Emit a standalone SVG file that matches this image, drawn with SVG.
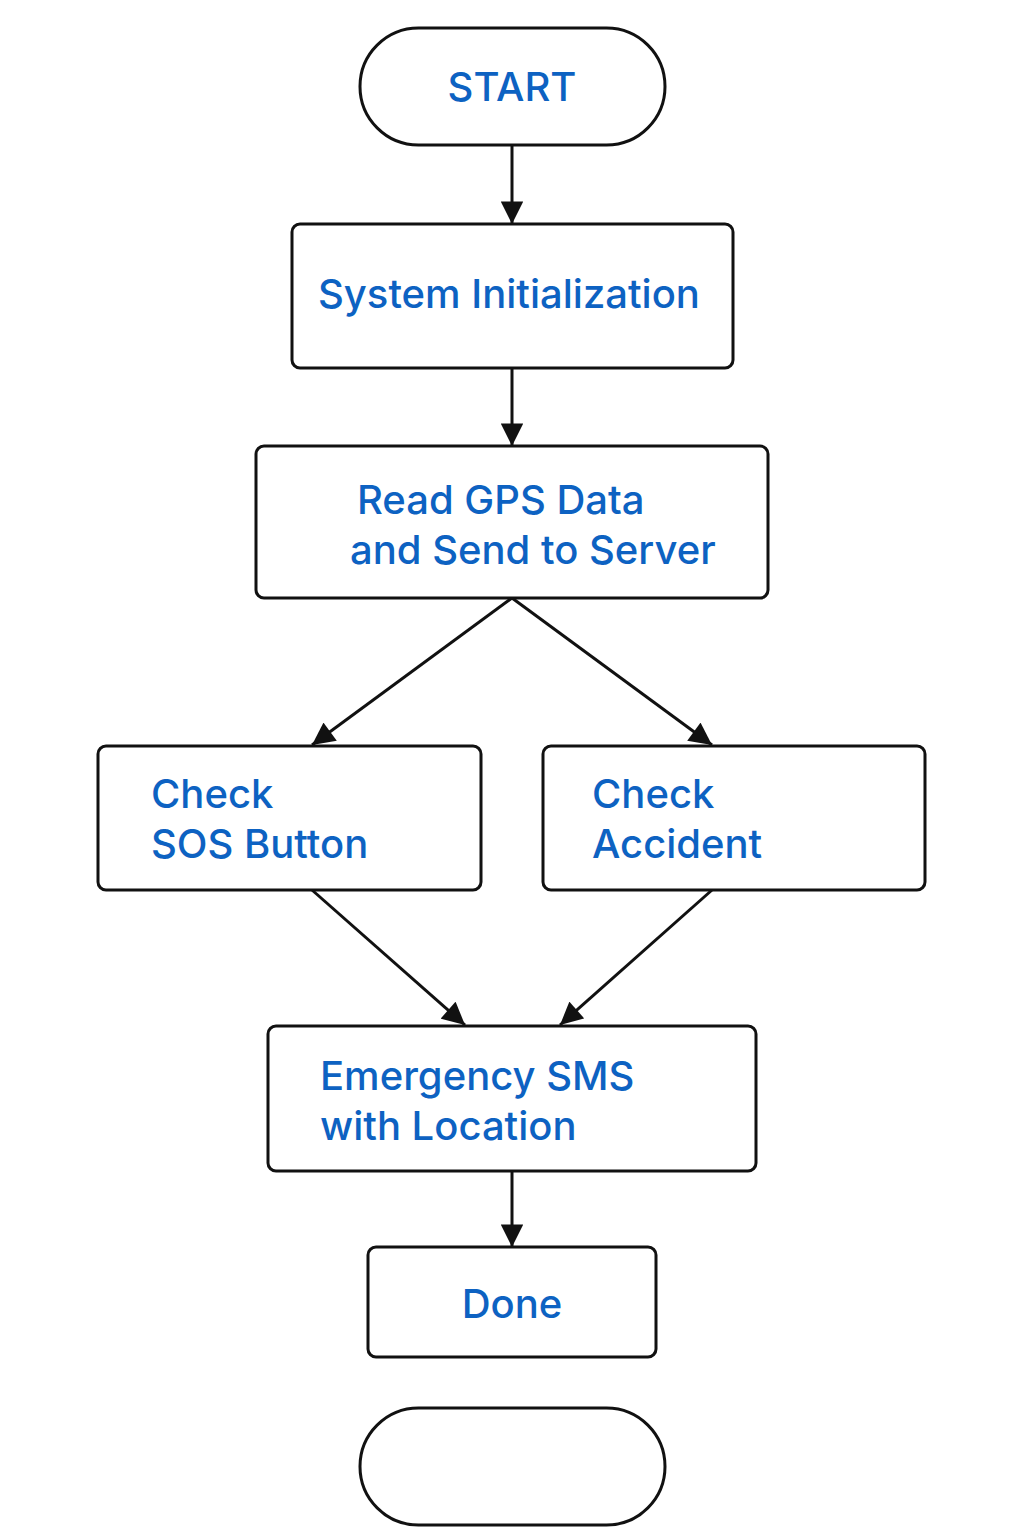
<svg xmlns="http://www.w3.org/2000/svg" width="1024" height="1536" viewBox="0 0 1024 1536">
<style>
.n{fill:#fff;stroke:#111;stroke-width:3}
.t{font-family:Inter,"Open Sans","Liberation Sans",sans-serif;font-weight:500;font-size:40px;fill:#0d62c2}
.c{stroke:#111;stroke-width:3;fill:none;marker-end:url(#ah)}
</style>
<defs>
<marker id="ah" viewBox="0 0 10 10" refX="10" refY="5" markerWidth="8" markerHeight="7.5" markerUnits="strokeWidth" orient="auto">
<path d="M0,0 L10,5 L0,10 z" fill="#111"/>
</marker>
</defs>
<rect width="1024" height="1536" fill="#fff"/>
<g id="connectors">
<line class="c" x1="512" y1="145" x2="512" y2="224"/>
<line class="c" x1="512" y1="368" x2="512" y2="446"/>
<line class="c" x1="512" y1="598" x2="312" y2="745"/>
<line class="c" x1="512" y1="598" x2="712" y2="745"/>
<line class="c" x1="312" y1="890" x2="465" y2="1025"/>
<line class="c" x1="712" y1="890" x2="560" y2="1025"/>
<line class="c" x1="512" y1="1171" x2="512" y2="1247"/>
</g>
<g id="start">
<rect class="n" x="360" y="28" width="305" height="117" rx="58.5"/>
<text class="t" x="512" y="101" text-anchor="middle">START</text>
</g>
<g id="init">
<rect class="n" x="292" y="224" width="441" height="144" rx="8"/>
<text class="t" x="318" y="308">System Initialization</text>
</g>
<g id="gps">
<rect class="n" x="256" y="446" width="512" height="152" rx="8"/>
<text class="t" x="357" y="514">Read GPS Data</text>
<text class="t" x="350" y="564">and Send to Server</text>
</g>
<g id="sos">
<rect class="n" x="98" y="746" width="383" height="144" rx="8"/>
<text class="t" x="151" y="808">Check</text>
<text class="t" x="151" y="858">SOS Button</text>
</g>
<g id="accident">
<rect class="n" x="543" y="746" width="382" height="144" rx="8"/>
<text class="t" x="592" y="808">Check</text>
<text class="t" x="592" y="858">Accident</text>
</g>
<g id="sms">
<rect class="n" x="268" y="1026" width="488" height="145" rx="8"/>
<text class="t" x="320" y="1090">Emergency SMS</text>
<text class="t" x="320" y="1140">with Location</text>
</g>
<g id="done">
<rect class="n" x="368" y="1247" width="288" height="110" rx="8"/>
<text class="t" x="512" y="1318" text-anchor="middle">Done</text>
</g>
<g id="end">
<rect class="n" x="360" y="1408" width="305" height="117" rx="58.5"/>
</g>
</svg>
